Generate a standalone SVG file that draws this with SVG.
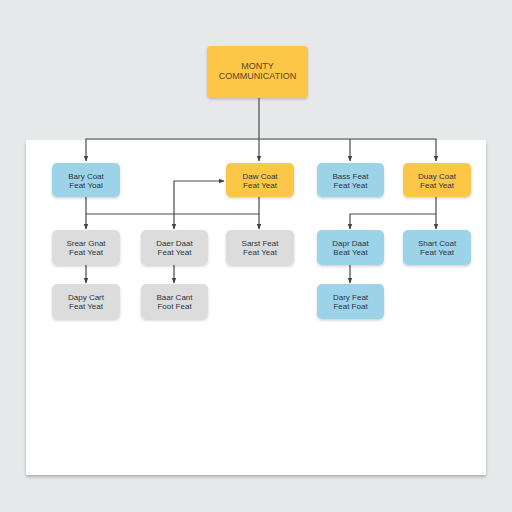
<svg xmlns="http://www.w3.org/2000/svg" width="512" height="512" viewBox="0 0 512 512">
<defs>
<filter id="sh" x="-20%" y="-20%" width="140%" height="160%"><feDropShadow dx="0" dy="1.5" stdDeviation="1.2" flood-color="#000" flood-opacity="0.18"/></filter>
<filter id="psh" x="-5%" y="-5%" width="110%" height="112%"><feDropShadow dx="0" dy="2" stdDeviation="1.5" flood-color="#000" flood-opacity="0.25"/></filter>
<marker id="ar" viewBox="0 0 10 10" refX="9" refY="5" markerWidth="6" markerHeight="6" orient="auto" markerUnits="userSpaceOnUse"><path d="M0,1 L10,5 L0,9 z" fill="#444"/></marker>
<style>
.blue{fill:#9dd3e8}
.org{fill:#fcc646}
.gray{fill:#dcdcdc}
.t{font-family:"Liberation Sans",Arial,sans-serif;font-size:8px;fill:#2b3440;text-anchor:middle}
.tt{font-family:"Liberation Sans",Arial,sans-serif;font-size:9px;fill:#5a4620;text-anchor:middle}
.c{fill:none;stroke:#4a4a4a;stroke-width:1.2}
</style>
</defs>
<rect width="512" height="512" fill="#e7e8e9"/>
<rect x="26" y="140" width="460" height="335" fill="#ffffff" filter="url(#psh)"/>
<g id="connectors">
<path class="c" d="M259,98 V139"/>
<path class="c" d="M259,139 H86 V161" marker-end="url(#ar)"/>
<path class="c" d="M259,139 V161" marker-end="url(#ar)"/>
<path class="c" d="M259,139 H436 V161" marker-end="url(#ar)"/>
<path class="c" d="M350,139 V161" marker-end="url(#ar)"/>
<path class="c" d="M86,197 V214 H259 V197"/>
<path class="c" d="M86,214 V229" marker-end="url(#ar)"/>
<path class="c" d="M259,214 V229" marker-end="url(#ar)"/>
<path class="c" d="M174,214 V229" marker-end="url(#ar)"/>
<path class="c" d="M174,214 V181 H224" marker-end="url(#ar)"/>
<path class="c" d="M436,197 V229" marker-end="url(#ar)"/>
<path class="c" d="M436,214 H350 V229" marker-end="url(#ar)"/>
<path class="c" d="M86,265 V283" marker-end="url(#ar)"/>
<path class="c" d="M174,265 V283" marker-end="url(#ar)"/>
<path class="c" d="M350,265 V283" marker-end="url(#ar)"/>
</g>
<g id="top"><rect class="org" x="207" y="46" width="101" height="52" rx="4" filter="url(#sh)"/><text class="tt" x="257.5" y="68.5">MONTY</text><text class="tt" x="257.5" y="78.5">COMMUNICATION</text></g>
<g id="n1"><rect class="blue" x="52" y="163" width="68" height="34" rx="5" filter="url(#sh)"/><text class="t" x="86" y="179">Bary Coat</text><text class="t" x="86" y="187.5">Feat Yoal</text></g>
<g id="n2"><rect class="org" x="226" y="163" width="68" height="34" rx="5" filter="url(#sh)"/><text class="t" x="260" y="179">Daw Coat</text><text class="t" x="260" y="187.5">Feat Yeat</text></g>
<g id="n3"><rect class="blue" x="317" y="163" width="67" height="34" rx="5" filter="url(#sh)"/><text class="t" x="350.5" y="179">Bass Feat</text><text class="t" x="350.5" y="187.5">Feat Yeat</text></g>
<g id="n4"><rect class="org" x="403" y="163" width="68" height="34" rx="5" filter="url(#sh)"/><text class="t" x="437" y="179">Duay Coat</text><text class="t" x="437" y="187.5">Feat Yeat</text></g>
<g id="n5"><rect class="gray" x="52" y="230" width="68" height="35" rx="5" filter="url(#sh)"/><text class="t" x="86" y="246">Srear Gnat</text><text class="t" x="86" y="254.5">Feat Yeat</text></g>
<g id="n6"><rect class="gray" x="141" y="230" width="67" height="35" rx="5" filter="url(#sh)"/><text class="t" x="174.5" y="246">Daer Daat</text><text class="t" x="174.5" y="254.5">Feat Yeat</text></g>
<g id="n7"><rect class="gray" x="226" y="230" width="68" height="35" rx="5" filter="url(#sh)"/><text class="t" x="260" y="246">Sarst Feat</text><text class="t" x="260" y="254.5">Feat Yeat</text></g>
<g id="n8"><rect class="blue" x="317" y="230" width="67" height="35" rx="5" filter="url(#sh)"/><text class="t" x="350.5" y="246">Dapr Daat</text><text class="t" x="350.5" y="254.5">Beat Yeat</text></g>
<g id="n9"><rect class="blue" x="403" y="230" width="68" height="35" rx="5" filter="url(#sh)"/><text class="t" x="437" y="246">Shart Coat</text><text class="t" x="437" y="254.5">Feat Yeat</text></g>
<g id="n10"><rect class="gray" x="52" y="284" width="68" height="35" rx="5" filter="url(#sh)"/><text class="t" x="86" y="300">Dapy Cart</text><text class="t" x="86" y="308.5">Feat Yeat</text></g>
<g id="n11"><rect class="gray" x="141" y="284" width="67" height="35" rx="5" filter="url(#sh)"/><text class="t" x="174.5" y="300">Baar Cant</text><text class="t" x="174.5" y="308.5">Foot Feat</text></g>
<g id="n12"><rect class="blue" x="317" y="284" width="67" height="35" rx="5" filter="url(#sh)"/><text class="t" x="350.5" y="300">Dary Feat</text><text class="t" x="350.5" y="308.5">Feat Foat</text></g>
</svg>
